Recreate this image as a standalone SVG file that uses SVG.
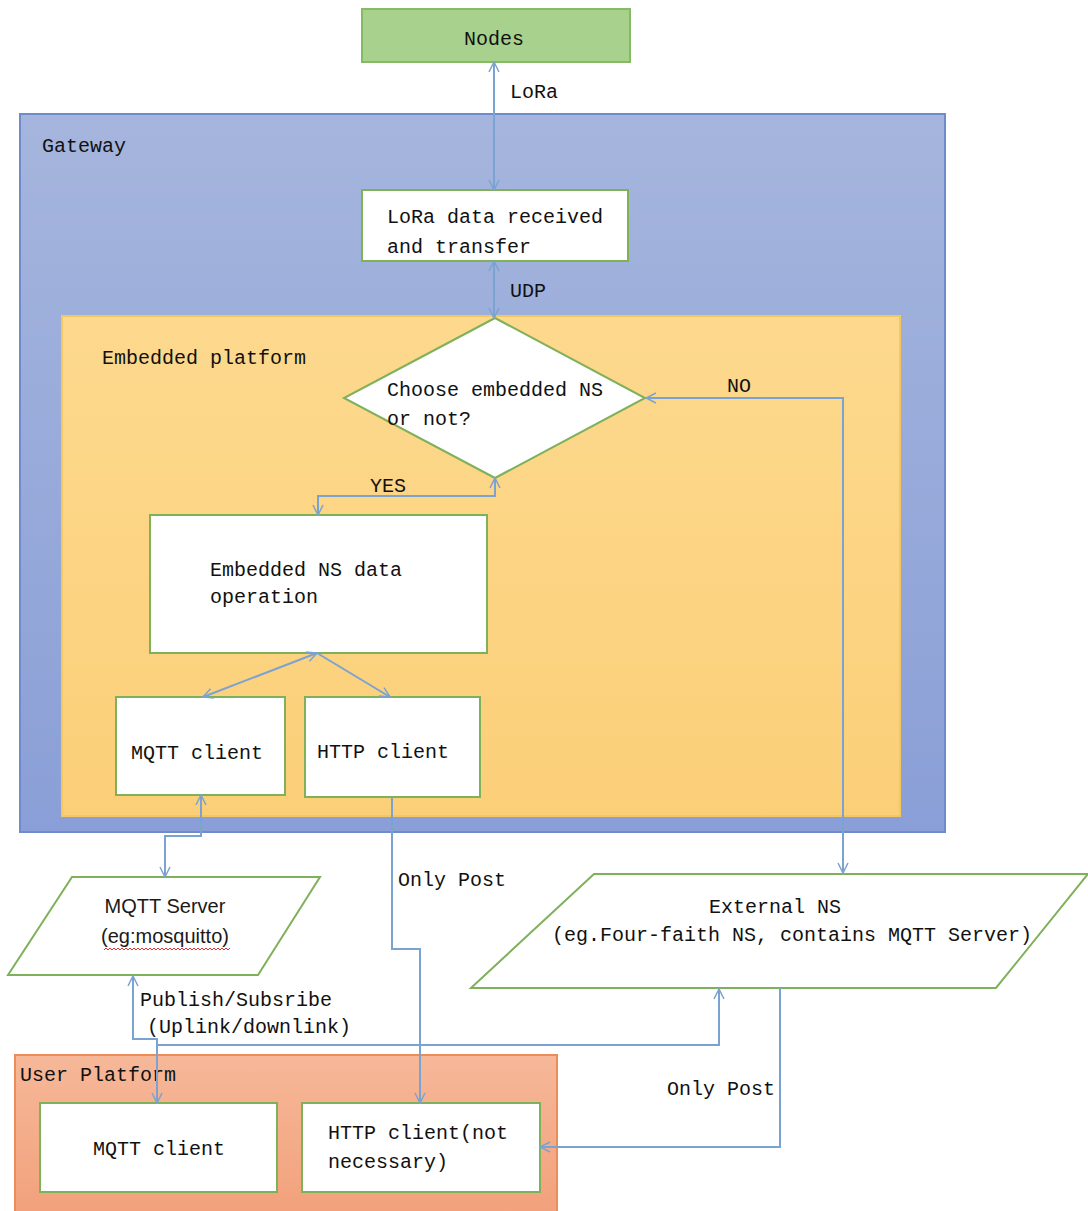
<svg xmlns="http://www.w3.org/2000/svg" width="1088" height="1211" viewBox="0 0 1088 1211">
<defs>
<linearGradient id="gGw" x1="0" y1="0" x2="0" y2="1"><stop offset="0" stop-color="#a5b5dd"/><stop offset="1" stop-color="#8a9fd7"/></linearGradient>
<linearGradient id="gEp" x1="0" y1="0" x2="0" y2="1"><stop offset="0" stop-color="#fdd98e"/><stop offset="1" stop-color="#fbcf78"/></linearGradient>
<linearGradient id="gUp" x1="0" y1="0" x2="0" y2="1"><stop offset="0" stop-color="#f6b899"/><stop offset="1" stop-color="#f2a17b"/></linearGradient>
<marker id="ah" viewBox="0 0 12 12" refX="11" refY="6" markerWidth="12" markerHeight="12" markerUnits="userSpaceOnUse" orient="auto-start-reverse">
<path d="M1,1 L11,6 L1,11" fill="none" stroke="#7ba3d1" stroke-width="1.5"/>
</marker>
</defs>
<style>
.t{font-family:"Liberation Mono","DejaVu Sans Mono",monospace;font-size:20px;fill:#111}
.s{font-family:"Liberation Sans",Arial,sans-serif;font-size:20px;fill:#1a1a1a}
.box{fill:#fff;stroke:#7fb05a;stroke-width:2}
.c{fill:none;stroke:#7ba3d1;stroke-width:2}
</style>
<rect width="1088" height="1211" fill="#fff"/>
<g id="gateway">
<rect x="20" y="114" width="925" height="718" fill="url(#gGw)" stroke="#6e8bcb" stroke-width="2"/>
<text class="t" x="42" y="152">Gateway</text>
</g>
<g id="embedded-platform">
<rect x="62" y="316" width="838" height="500" fill="url(#gEp)" stroke="#f5c760" stroke-width="2"/>
<text class="t" x="102" y="364">Embedded platform</text>
</g>
<g id="user-platform">
<rect x="15" y="1055" width="542" height="160" fill="url(#gUp)" stroke="#ee8c58" stroke-width="2"/>
<text class="t" x="20" y="1081">User Platform</text>
</g>
<g id="nodes">
<rect x="362" y="9" width="268" height="53" fill="#a9d18e" stroke="#84bb63" stroke-width="2"/>
<text class="t" x="494" y="45" text-anchor="middle">Nodes</text>
</g>
<g id="lora-rx">
<rect class="box" x="362" y="190" width="266" height="71"/>
<text class="t" x="387" y="223">LoRa data received</text>
<text class="t" x="387" y="253">and transfer</text>
</g>
<g id="decision">
<polygon class="box" points="495,318 645,398 495,478 344,398"/>
<text class="t" x="387" y="396">Choose embedded NS</text>
<text class="t" x="387" y="425">or not?</text>
</g>
<g id="embedded-ns">
<rect class="box" x="150" y="515" width="337" height="138"/>
<text class="t" x="210" y="576">Embedded NS data</text>
<text class="t" x="210" y="603">operation</text>
</g>
<g id="mqtt-client-gw">
<rect class="box" x="116" y="697" width="169" height="98"/>
<text class="t" x="131" y="759">MQTT client</text>
</g>
<g id="http-client-gw">
<rect class="box" x="305" y="697" width="175" height="100"/>
<text class="t" x="317" y="758">HTTP client</text>
</g>
<g id="mqtt-server">
<polygon class="box" points="72,877 320,877 258,975 8,975"/>
<text class="s" x="165" y="913" text-anchor="middle">MQTT Server</text>
<text class="s" x="165" y="943" text-anchor="middle">(eg:mosquitto)</text>
<path d="M104,950 l2,-2 l2,2 l2,-2 l2,2 l2,-2 l2,2 l2,-2 l2,2 l2,-2 l2,2 l2,-2 l2,2 l2,-2 l2,2 l2,-2 l2,2 l2,-2 l2,2 l2,-2 l2,2 l2,-2 l2,2 l2,-2 l2,2 l2,-2 l2,2 l2,-2 l2,2 l2,-2 l2,2 l2,-2 l2,2 l2,-2 l2,2 l2,-2 l2,2 l2,-2 l2,2 l2,-2 l2,2 l2,-2 l2,2 l2,-2 l2,2 l2,-2 l2,2 l2,-2 l2,2 l2,-2 l2,2 l2,-2 l2,2 l2,-2 l2,2 l2,-2 l2,2 l2,-2 l2,2 l2,-2 l2,2 l2,-2 l2,2 l2,-2" fill="none" stroke="#e03030" stroke-width="1"/>
</g>
<g id="external-ns">
<polygon class="box" points="594,874 1088,874 996,988 471,988"/>
<text class="t" x="775" y="913" text-anchor="middle">External NS</text>
<text class="t" x="552" y="941">(eg.Four-faith NS, contains MQTT Server)</text>
</g>
<g id="mqtt-client-user">
<rect class="box" x="40" y="1103" width="237" height="89"/>
<text class="t" x="93" y="1155">MQTT client</text>
</g>
<g id="http-client-user">
<rect class="box" x="302" y="1103" width="238" height="89"/>
<text class="t" x="328" y="1139">HTTP client(not</text>
<text class="t" x="328" y="1168">necessary)</text>
</g>
<g id="connectors">
<path class="c" d="M494,62 L494,190" marker-start="url(#ah)" marker-end="url(#ah)"/>
<path class="c" d="M494,261 L494,318" marker-start="url(#ah)" marker-end="url(#ah)"/>
<path class="c" d="M495,478 L495,496 L318,496 L318,515" marker-start="url(#ah)" marker-end="url(#ah)"/>
<path class="c" d="M843,873 L843,398 L646,398" marker-start="url(#ah)" marker-end="url(#ah)"/>
<path class="c" d="M317,653 L203,697" marker-start="url(#ah)" marker-end="url(#ah)"/>
<path class="c" d="M317,653 L390,697" marker-end="url(#ah)"/>
<path class="c" d="M201,795 L201,836 L165,836 L165,877" marker-start="url(#ah)" marker-end="url(#ah)"/>
<path class="c" d="M392,797 L392,949 L420,949 L420,1103" marker-end="url(#ah)"/>
<path class="c" d="M133,976 L133,1039 L157,1039 L157,1103" marker-start="url(#ah)" marker-end="url(#ah)"/>
<path class="c" d="M157,1045 L719,1045 L719,989" marker-end="url(#ah)"/>
<path class="c" d="M780,988 L780,1147 L540,1147" marker-end="url(#ah)"/>
<text class="t" x="510" y="98">LoRa</text>
<text class="t" x="510" y="297">UDP</text>
<text class="t" x="727" y="392">NO</text>
<text class="t" x="370" y="492">YES</text>
<text class="t" x="398" y="886">Only Post</text>
<text class="t" x="140" y="1006">Publish/Subsribe</text>
<text class="t" x="147" y="1033">(Uplink/downlink)</text>
<text class="t" x="667" y="1095">Only Post</text>
</g>
</svg>
